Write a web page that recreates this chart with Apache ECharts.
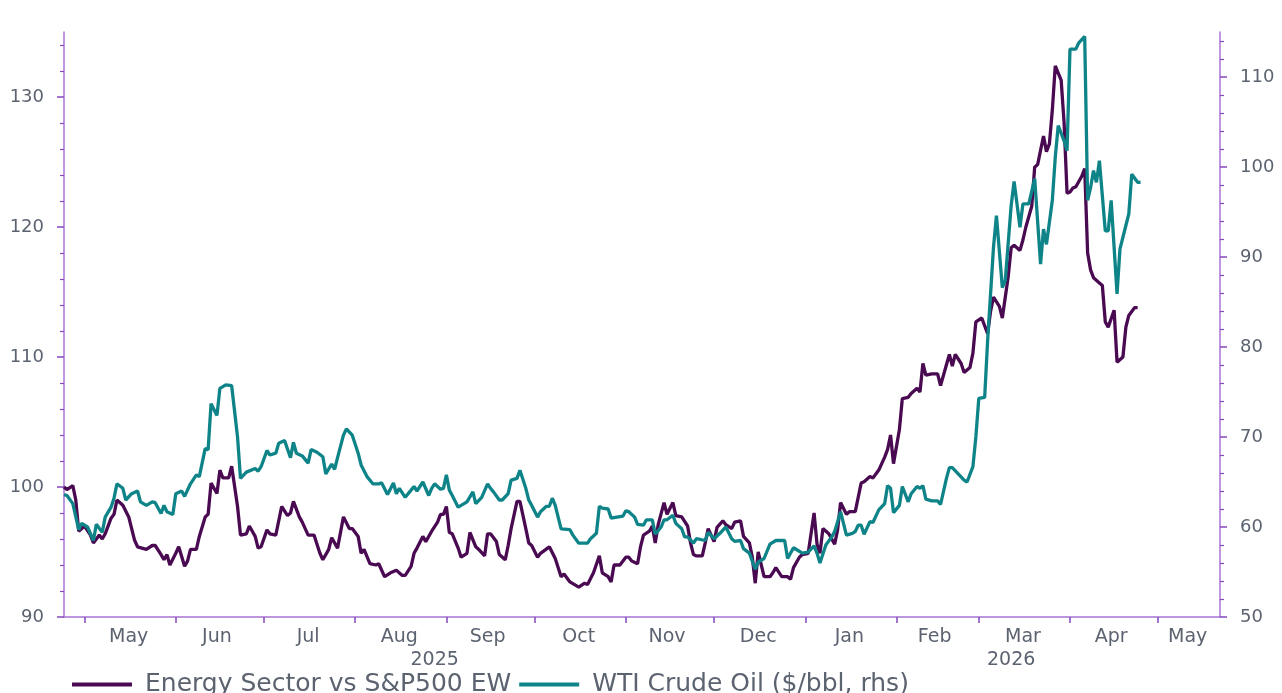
<!DOCTYPE html>
<html><head><meta charset="utf-8">
<script src="https://cdn.jsdelivr.net/npm/echarts@6/dist/echarts.min.js"></script>
<style>html,body{margin:0;padding:0;background:#fff}#c{width:1282px;height:693px}</style>
</head><body><div id="c"></div>
<script>
const energyDates = ['2025-04-24','2025-04-25','2025-04-27','2025-04-28','2025-04-29','2025-05-01','2025-05-03','2025-05-04','2025-05-06','2025-05-07','2025-05-08','2025-05-10','2025-05-11','2025-05-12','2025-05-14','2025-05-16','2025-05-18','2025-05-19','2025-05-22','2025-05-24','2025-05-25','2025-05-27','2025-05-28','2025-05-29','2025-05-30','2025-06-01','2025-06-02','2025-06-04','2025-06-05','2025-06-06','2025-06-08','2025-06-09','2025-06-11','2025-06-12','2025-06-13','2025-06-15','2025-06-16','2025-06-17','2025-06-19','2025-06-20','2025-06-22','2025-06-23','2025-06-25','2025-06-26','2025-06-28','2025-06-29','2025-06-30','2025-07-02','2025-07-03','2025-07-05','2025-07-07','2025-07-09','2025-07-10','2025-07-11','2025-07-13','2025-07-14','2025-07-16','2025-07-18','2025-07-20','2025-07-21','2025-07-23','2025-07-24','2025-07-26','2025-07-28','2025-07-30','2025-07-31','2025-08-02','2025-08-03','2025-08-04','2025-08-06','2025-08-08','2025-08-09','2025-08-11','2025-08-13','2025-08-15','2025-08-17','2025-08-18','2025-08-20','2025-08-21','2025-08-22','2025-08-24','2025-08-25','2025-08-27','2025-08-29','2025-08-30','2025-08-31','2025-09-01','2025-09-02','2025-09-03','2025-09-05','2025-09-06','2025-09-08','2025-09-09','2025-09-11','2025-09-12','2025-09-14','2025-09-15','2025-09-16','2025-09-18','2025-09-19','2025-09-21','2025-09-22','2025-09-23','2025-09-25','2025-09-26','2025-09-28','2025-09-29','2025-09-30','2025-10-02','2025-10-03','2025-10-06','2025-10-08','2025-10-10','2025-10-11','2025-10-13','2025-10-16','2025-10-18','2025-10-19','2025-10-21','2025-10-23','2025-10-24','2025-10-26','2025-10-27','2025-10-28','2025-10-30','2025-11-01','2025-11-02','2025-11-03','2025-11-05','2025-11-06','2025-11-07','2025-11-09','2025-11-10','2025-11-11','2025-11-12','2025-11-14','2025-11-15','2025-11-17','2025-11-18','2025-11-20','2025-11-22','2025-11-23','2025-11-24','2025-11-25','2025-11-27','2025-11-28','2025-11-29','2025-12-01','2025-12-02','2025-12-04','2025-12-05','2025-12-07','2025-12-08','2025-12-10','2025-12-11','2025-12-13','2025-12-14','2025-12-15','2025-12-16','2025-12-18','2025-12-20','2025-12-21','2025-12-22','2025-12-24','2025-12-26','2025-12-27','2025-12-28','2025-12-30','2025-12-31','2026-01-02','2026-01-04','2026-01-05','2026-01-06','2026-01-07','2026-01-09','2026-01-11','2026-01-12','2026-01-13','2026-01-15','2026-01-16','2026-01-18','2026-01-20','2026-01-21','2026-01-23','2026-01-24','2026-01-26','2026-01-28','2026-01-29','2026-01-30','2026-01-31','2026-02-02','2026-02-03','2026-02-05','2026-02-06','2026-02-08','2026-02-09','2026-02-10','2026-02-11','2026-02-13','2026-02-15','2026-02-16','2026-02-18','2026-02-19','2026-02-20','2026-02-21','2026-02-23','2026-02-24','2026-02-26','2026-02-27','2026-02-28','2026-03-02','2026-03-04','2026-03-05','2026-03-06','2026-03-08','2026-03-09','2026-03-11','2026-03-12','2026-03-13','2026-03-15','2026-03-16','2026-03-17','2026-03-19','2026-03-20','2026-03-21','2026-03-23','2026-03-24','2026-03-25','2026-03-26','2026-03-27','2026-03-29','2026-03-30','2026-03-31','2026-04-01','2026-04-02','2026-04-03','2026-04-05','2026-04-06','2026-04-07','2026-04-08','2026-04-09','2026-04-11','2026-04-12','2026-04-13','2026-04-14','2026-04-16','2026-04-17','2026-04-19','2026-04-20','2026-04-21','2026-04-23','2026-04-24'];
const energyValues = [100.0,99.8,100.1,99.0,96.6,97.0,96.3,95.7,96.3,96.0,96.4,97.6,97.9,99.0,98.6,97.7,95.9,95.4,95.2,95.5,95.5,94.8,94.4,94.8,94.0,94.9,95.4,93.9,94.3,95.2,95.2,96.2,97.7,97.9,100.3,99.5,101.3,100.7,100.7,101.6,98.5,96.3,96.4,97.0,96.2,95.3,95.4,96.7,96.4,96.3,98.5,97.8,98.0,98.9,97.7,97.3,96.3,96.3,94.9,94.4,95.2,96.1,95.3,97.7,96.8,96.8,96.2,94.9,95.2,94.1,94.0,94.1,93.1,93.4,93.6,93.2,93.2,93.9,94.9,95.3,96.2,95.8,96.6,97.3,97.9,97.9,98.5,96.5,96.4,95.3,94.6,94.9,96.5,95.4,95.2,94.7,96.4,96.4,95.8,94.8,94.4,95.5,96.8,98.9,98.9,96.8,95.7,95.5,94.6,94.9,95.4,94.5,93.1,93.3,92.7,92.3,92.6,92.5,93.4,94.7,93.4,93.1,92.7,94.0,94.0,94.6,94.6,94.3,94.1,95.4,96.3,96.6,97.0,95.7,97.1,98.8,97.9,98.8,97.8,97.7,97.0,95.7,94.8,94.7,94.7,95.7,96.8,95.8,96.9,97.4,97.1,96.8,97.3,97.4,96.2,95.7,94.6,92.6,95.0,93.1,93.1,93.4,93.8,93.1,93.1,92.9,93.8,94.6,94.8,94.9,98.0,95.6,94.9,96.8,96.4,95.6,96.7,98.8,97.9,98.1,98.1,100.3,100.4,100.8,100.7,101.3,102.3,102.9,104.0,101.8,104.4,106.8,106.9,107.2,107.6,107.3,109.5,108.6,108.7,108.7,107.8,109.4,110.2,109.3,110.2,109.5,108.8,109.2,110.3,112.7,113.0,111.8,113.5,114.6,113.9,113.0,116.2,118.4,118.6,118.2,119.0,120.0,121.6,124.6,124.8,127.0,125.8,126.4,129.0,132.4,131.3,128.0,122.6,122.7,123.0,123.1,123.9,124.5,118.0,116.7,116.1,115.7,115.5,112.7,112.3,113.6,109.6,110.0,112.3,113.2,113.8,113.8];

const wtiDates = ['2025-04-24','2025-04-25','2025-04-27','2025-04-29','2025-04-30','2025-05-02','2025-05-04','2025-05-05','2025-05-07','2025-05-08','2025-05-10','2025-05-11','2025-05-12','2025-05-14','2025-05-15','2025-05-17','2025-05-19','2025-05-20','2025-05-22','2025-05-24','2025-05-25','2025-05-27','2025-05-28','2025-05-29','2025-05-31','2025-06-01','2025-06-03','2025-06-04','2025-06-06','2025-06-08','2025-06-09','2025-06-11','2025-06-12','2025-06-13','2025-06-15','2025-06-16','2025-06-18','2025-06-20','2025-06-22','2025-06-23','2025-06-25','2025-06-28','2025-06-29','2025-06-30','2025-07-02','2025-07-03','2025-07-05','2025-07-06','2025-07-08','2025-07-10','2025-07-11','2025-07-12','2025-07-14','2025-07-16','2025-07-17','2025-07-19','2025-07-21','2025-07-22','2025-07-24','2025-07-25','2025-07-26','2025-07-28','2025-07-29','2025-07-31','2025-08-02','2025-08-03','2025-08-05','2025-08-07','2025-08-09','2025-08-10','2025-08-12','2025-08-14','2025-08-15','2025-08-16','2025-08-18','2025-08-20','2025-08-21','2025-08-22','2025-08-24','2025-08-26','2025-08-27','2025-08-28','2025-08-30','2025-08-31','2025-09-01','2025-09-02','2025-09-03','2025-09-05','2025-09-08','2025-09-10','2025-09-11','2025-09-13','2025-09-15','2025-09-16','2025-09-17','2025-09-19','2025-09-20','2025-09-22','2025-09-23','2025-09-25','2025-09-26','2025-09-28','2025-09-29','2025-09-30','2025-10-02','2025-10-03','2025-10-05','2025-10-06','2025-10-07','2025-10-08','2025-10-10','2025-10-13','2025-10-14','2025-10-16','2025-10-19','2025-10-20','2025-10-22','2025-10-23','2025-10-24','2025-10-26','2025-10-27','2025-10-29','2025-10-31','2025-11-01','2025-11-02','2025-11-04','2025-11-05','2025-11-07','2025-11-08','2025-11-10','2025-11-11','2025-11-13','2025-11-14','2025-11-15','2025-11-17','2025-11-18','2025-11-20','2025-11-21','2025-11-22','2025-11-24','2025-11-25','2025-11-28','2025-11-29','2025-12-01','2025-12-03','2025-12-05','2025-12-07','2025-12-08','2025-12-10','2025-12-11','2025-12-13','2025-12-15','2025-12-16','2025-12-18','2025-12-20','2025-12-22','2025-12-25','2025-12-26','2025-12-28','2025-12-29','2025-12-31','2026-01-02','2026-01-04','2026-01-05','2026-01-06','2026-01-08','2026-01-10','2026-01-11','2026-01-12','2026-01-13','2026-01-15','2026-01-17','2026-01-18','2026-01-19','2026-01-20','2026-01-21','2026-01-23','2026-01-24','2026-01-26','2026-01-28','2026-01-29','2026-01-30','2026-01-31','2026-02-02','2026-02-03','2026-02-05','2026-02-06','2026-02-08','2026-02-09','2026-02-10','2026-02-11','2026-02-13','2026-02-15','2026-02-16','2026-02-18','2026-02-19','2026-02-20','2026-02-22','2026-02-24','2026-02-25','2026-02-27','2026-02-28','2026-03-01','2026-03-03','2026-03-04','2026-03-06','2026-03-07','2026-03-09','2026-03-10','2026-03-12','2026-03-13','2026-03-15','2026-03-16','2026-03-18','2026-03-20','2026-03-22','2026-03-23','2026-03-24','2026-03-26','2026-03-27','2026-03-28','2026-03-30','2026-03-31','2026-04-01','2026-04-03','2026-04-04','2026-04-06','2026-04-07','2026-04-08','2026-04-09','2026-04-10','2026-04-11','2026-04-13','2026-04-14','2026-04-15','2026-04-17','2026-04-18','2026-04-20','2026-04-21','2026-04-22','2026-04-24','2026-04-25'];
const wtiValues = [63.6,63.5,62.6,59.7,60.4,60.0,58.5,60.3,59.4,61.1,62.2,63.2,64.8,64.3,63.0,63.7,64.0,62.8,62.4,62.8,62.7,61.5,62.4,61.7,61.4,63.7,64.0,63.4,64.8,65.8,65.6,68.7,68.6,73.7,72.4,75.4,75.8,75.7,70.0,65.4,66.1,66.5,66.2,66.7,68.5,68.0,68.2,69.3,69.6,67.7,69.4,68.2,67.9,67.1,68.6,68.3,67.8,65.9,67.0,66.4,67.7,70.2,70.9,70.2,68.2,66.9,65.6,64.8,64.8,64.9,63.6,64.9,63.7,64.3,63.3,64.1,64.5,64.0,65.0,63.5,64.3,64.8,64.2,64.3,65.8,64.1,63.5,62.2,62.8,63.9,62.6,63.3,64.8,64.3,63.9,63.0,63.0,63.7,65.2,65.4,66.3,64.3,63.0,62.4,61.1,61.7,62.3,62.3,63.2,62.4,59.8,59.7,59.1,58.2,58.2,58.7,59.3,62.3,62.1,62.0,61.0,61.1,61.2,61.8,61.7,61.1,60.3,60.2,60.8,60.8,59.2,60.0,60.8,60.8,61.3,60.4,59.8,58.9,58.9,58.2,58.7,58.5,59.4,58.7,59.3,60.0,58.7,58.4,58.5,57.6,57.1,55.3,56.1,56.5,58.1,58.5,58.5,56.5,57.7,57.5,57.1,57.2,57.9,57.1,56.0,58.0,58.9,59.5,60.6,61.7,59.1,59.3,59.5,60.2,60.2,59.2,60.6,60.5,61.9,62.6,64.6,64.3,61.6,62.4,64.5,62.8,63.7,64.5,64.3,64.6,63.1,62.9,62.9,62.5,65.4,66.6,66.6,65.9,65.2,65.0,66.7,70.0,74.3,74.4,80.7,91.1,94.6,86.6,87.4,95.7,98.4,93.3,95.9,95.9,98.7,89.2,93.1,91.4,96.3,101.1,104.6,102.9,101.8,113.1,113.1,113.8,114.5,96.3,97.7,99.6,98.3,100.7,92.9,92.9,96.3,85.9,90.9,93.5,94.8,99.2,98.3,98.3];

const monthTickDates = ['2025-05-01','2025-06-01','2025-07-01','2025-08-01','2025-09-01','2025-10-01','2025-11-01','2025-12-01','2026-01-01','2026-02-01','2026-03-01','2026-04-01','2026-05-01'];
const monthLabelDates = ['2025-05-16','2025-06-15','2025-07-16','2025-08-16','2025-09-15','2025-10-16','2025-11-15','2025-12-16','2026-01-16','2026-02-14','2026-03-16','2026-04-15','2026-05-11'];
const monthNames = ['Jan','Feb','Mar','Apr','May','Jun','Jul','Aug','Sep','Oct','Nov','Dec'];
const yearLabelDates = ['2025-08-28','2026-03-12'];
const leftTicks = [90,100,110,120,130];
const rightTicks = [50,60,70,80,90,100,110];
const seriesNames = ['Energy Sector vs S&P500 EW','WTI Crude Oil ($/bbl, rhs)'];

const ts = s => Date.parse(s + 'T00:00:00Z');
const axisMin = ts('2025-04-24'), axisMax = ts('2026-05-22');
const axisColor = '#a874d6', tickColor = '#8748bf', textColor = '#5c6370';
const font = 'DejaVu Sans';

const chart = echarts.init(document.getElementById('c'));
const xBase = {
  type: 'value', min: axisMin, max: axisMax, splitLine: {show: false}
};
const yBase = (pos) => ({
  type: 'value', position: pos, splitLine: {show: false}, interval: 10,
  axisLine: {show: true, lineStyle: {color: axisColor, width: 1.5}},
  axisTick: {show: true, length: 7, lineStyle: {color: tickColor, width: 1.5}},
  minorTick: {show: true, splitNumber: 5, length: 4, lineStyle: {color: tickColor, width: 1.2}},
  axisLabel: {color: textColor, fontFamily: font, fontSize: 18, margin: 20}
});
const left = yBase('left');
left.min = 90; left.max = 135;
left.axisTick.customValues = leftTicks; left.axisLabel.customValues = leftTicks;
const right = yBase('right');
right.min = 50; right.max = 115;
right.axisTick.customValues = rightTicks; right.axisLabel.customValues = rightTicks;

chart.setOption({
  animation: false,
  backgroundColor: '#fff',
  grid: {left: 64, right: 62, top: 32, bottom: 76, containLabel: false, outerBoundsMode: 'none'},
  legend: {
    left: 72, top: 672, padding: 0, itemGap: 8, itemWidth: 60, itemHeight: 4, icon: 'rect',
    textStyle: {color: textColor, fontFamily: font, fontSize: 25, padding: [0, 0, 0, 8]},
    data: seriesNames
  },
  xAxis: [
    Object.assign({}, xBase, {
      position: 'bottom',
      axisLine: {show: true, lineStyle: {color: axisColor, width: 1.5}},
      axisTick: {show: true, length: 6, customValues: monthTickDates.map(ts), lineStyle: {color: tickColor, width: 1.5}},
      axisLabel: {
        customValues: monthLabelDates.map(ts), color: textColor, fontFamily: font, fontSize: 19, margin: 11,
        formatter: v => monthNames[new Date(v).getUTCMonth()]
      }
    }),
    Object.assign({}, xBase, {
      position: 'bottom',
      axisLine: {show: false}, axisTick: {show: false},
      axisLabel: {
        customValues: yearLabelDates.map(ts), color: textColor, fontFamily: font, fontSize: 19, margin: 34,
        formatter: v => String(new Date(v).getUTCFullYear())
      }
    })
  ],
  yAxis: [left, right],
  series: [
    {
      name: seriesNames[0], type: 'line', xAxisIndex: 0, yAxisIndex: 0, showSymbol: false,
      color: '#4a0a52', lineStyle: {width: 3.3, color: '#4a0a52'},
      data: energyDates.map((d, i) => [ts(d), energyValues[i]])
    },
    {
      name: seriesNames[1], type: 'line', xAxisIndex: 0, yAxisIndex: 1, showSymbol: false,
      color: '#0e8488', lineStyle: {width: 3.3, color: '#0e8488'},
      data: wtiDates.map((d, i) => [ts(d), wtiValues[i]])
    }
  ]
});
</script>
</body></html>
